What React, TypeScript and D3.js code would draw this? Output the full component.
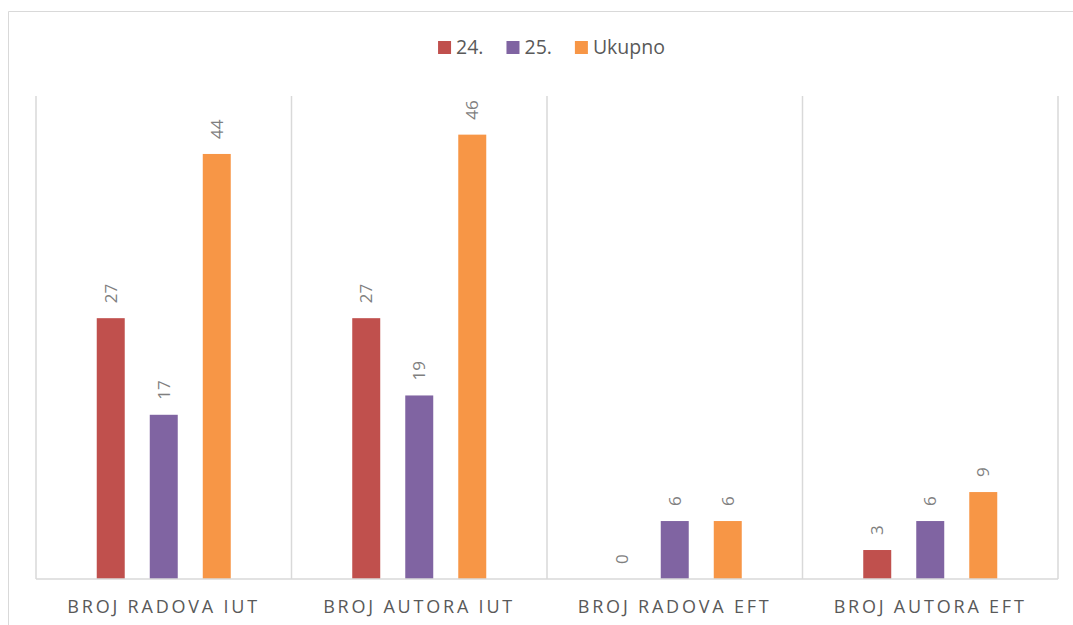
import React, { useEffect, useRef } from "react";
import * as d3 from "d3";

const categories = ["BROJ RADOVA IUT", "BROJ AUTORA IUT", "BROJ RADOVA EFT", "BROJ AUTORA EFT"];
const seriesNames = ["24.", "25.", "Ukupno"];
const values24 = [27, 27, 0, 3];
const values25 = [17, 19, 6, 6];
const valuesUkupno = [44, 46, 6, 9];
const seriesColors = ["#C0504D", "#8064A2", "#F79646"];
const yMax = 50;

const W = 1073;
const H = 625;

export default function App() {
  const ref = useRef<SVGSVGElement | null>(null);

  useEffect(() => {
    const svg = d3.select(ref.current);
    svg.selectAll("*").remove();
    const font = "'Open Sans', 'Liberation Sans', sans-serif";

    const plot = { left: 36, right: 1058, top: 96, bottom: 579 };
    const seriesValues = [values24, values25, valuesUkupno];

    // outer chart border
    svg.append("path")
      .attr("d", `M8.5,${H + 2} L8.5,11.5 L${W + 2},11.5`)
      .attr("fill", "none")
      .attr("stroke", "#d9d9d9")
      .attr("stroke-width", 1);

    const x0 = d3.scaleBand<string>().domain(categories).range([plot.left, plot.right]).padding(0);
    const x1 = d3.scaleBand<string>().domain(seriesNames).range([0, x0.bandwidth()])
      .paddingInner(0.472).paddingOuter(1.146);
    const y = d3.scaleLinear().domain([0, yMax]).range([plot.bottom, plot.top]);

    // vertical category separators
    const sepPositions = categories.map((c) => x0(c)!).concat([plot.right]);
    svg.append("g").selectAll("line").data(sepPositions).join("line")
      .attr("x1", (d) => d).attr("x2", (d) => d)
      .attr("y1", plot.top).attr("y2", plot.bottom)
      .attr("stroke", "#d9d9d9").attr("stroke-width", 1.5);

    // bars
    const g = svg.append("g");
    seriesNames.forEach((s, si) => {
      const vals = seriesValues[si];
      g.append("g").selectAll("rect").data(categories).join("rect")
        .attr("x", (c) => x0(c)! + x1(s)!)
        .attr("width", x1.bandwidth())
        .attr("y", (c, i) => y(vals[i]))
        .attr("height", (c, i) => plot.bottom - y(vals[i]))
        .attr("fill", seriesColors[si]);
      // data labels
      g.append("g").selectAll("text").data(categories).join("text")
        .attr("transform", (c, i) => {
          const cx = x0(c)! + x1(s)! + x1.bandwidth() / 2;
          const cy = y(vals[i]) - 15;
          return `translate(${cx},${cy}) rotate(-90)`;
        })
        .attr("dy", "0.35em")
        .attr("text-anchor", "start")
        .attr("font-family", font)
        .attr("font-size", 17)
        .attr("fill", "#7f7f7f")
        .text((c, i) => String(vals[i]));
    });

    // baseline
    svg.append("line")
      .attr("x1", plot.left).attr("x2", plot.right)
      .attr("y1", plot.bottom).attr("y2", plot.bottom)
      .attr("stroke", "#d9d9d9").attr("stroke-width", 1.5);

    // category labels
    const ls = 2.8;
    svg.append("g").selectAll("text").data(categories).join("text")
      .attr("x", (c) => x0(c)! + x0.bandwidth() / 2 + ls / 2 - 1.5)
      .attr("y", 613)
      .attr("text-anchor", "middle")
      .attr("font-family", font)
      .attr("font-size", 18)
      .attr("letter-spacing", ls)
      .attr("fill", "#595959")
      .text((c) => c);

    // legend
    const legend = svg.append("g");
    const items: { g: any; w: number }[] = [];
    seriesNames.forEach((s, si) => {
      const ig = legend.append("g");
      ig.append("rect").attr("x", 0).attr("y", -13).attr("width", 13).attr("height", 13).attr("fill", seriesColors[si]);
      const t = ig.append("text").attr("x", 18).attr("y", 0)
        .attr("font-family", font).attr("font-size", 19.5).attr("fill", "#595959").text(s);
      const tw = (t.node() as SVGTextElement).getComputedTextLength();
      items.push({ g: ig, w: 18 + tw });
    });
    const gap = 23;
    const total = items.reduce((a, b) => a + b.w, 0) + gap * (items.length - 1);
    let cx = 551.5 - total / 2;
    items.forEach((it) => {
      it.g.attr("transform", `translate(${cx},54)`);
      cx += it.w + gap;
    });
  }, []);

  return (
    <svg
      ref={ref}
      width={W}
      height={H}
      style={{ position: "absolute", left: 0, top: 0, background: "#ffffff" }}
    />
  );
}
